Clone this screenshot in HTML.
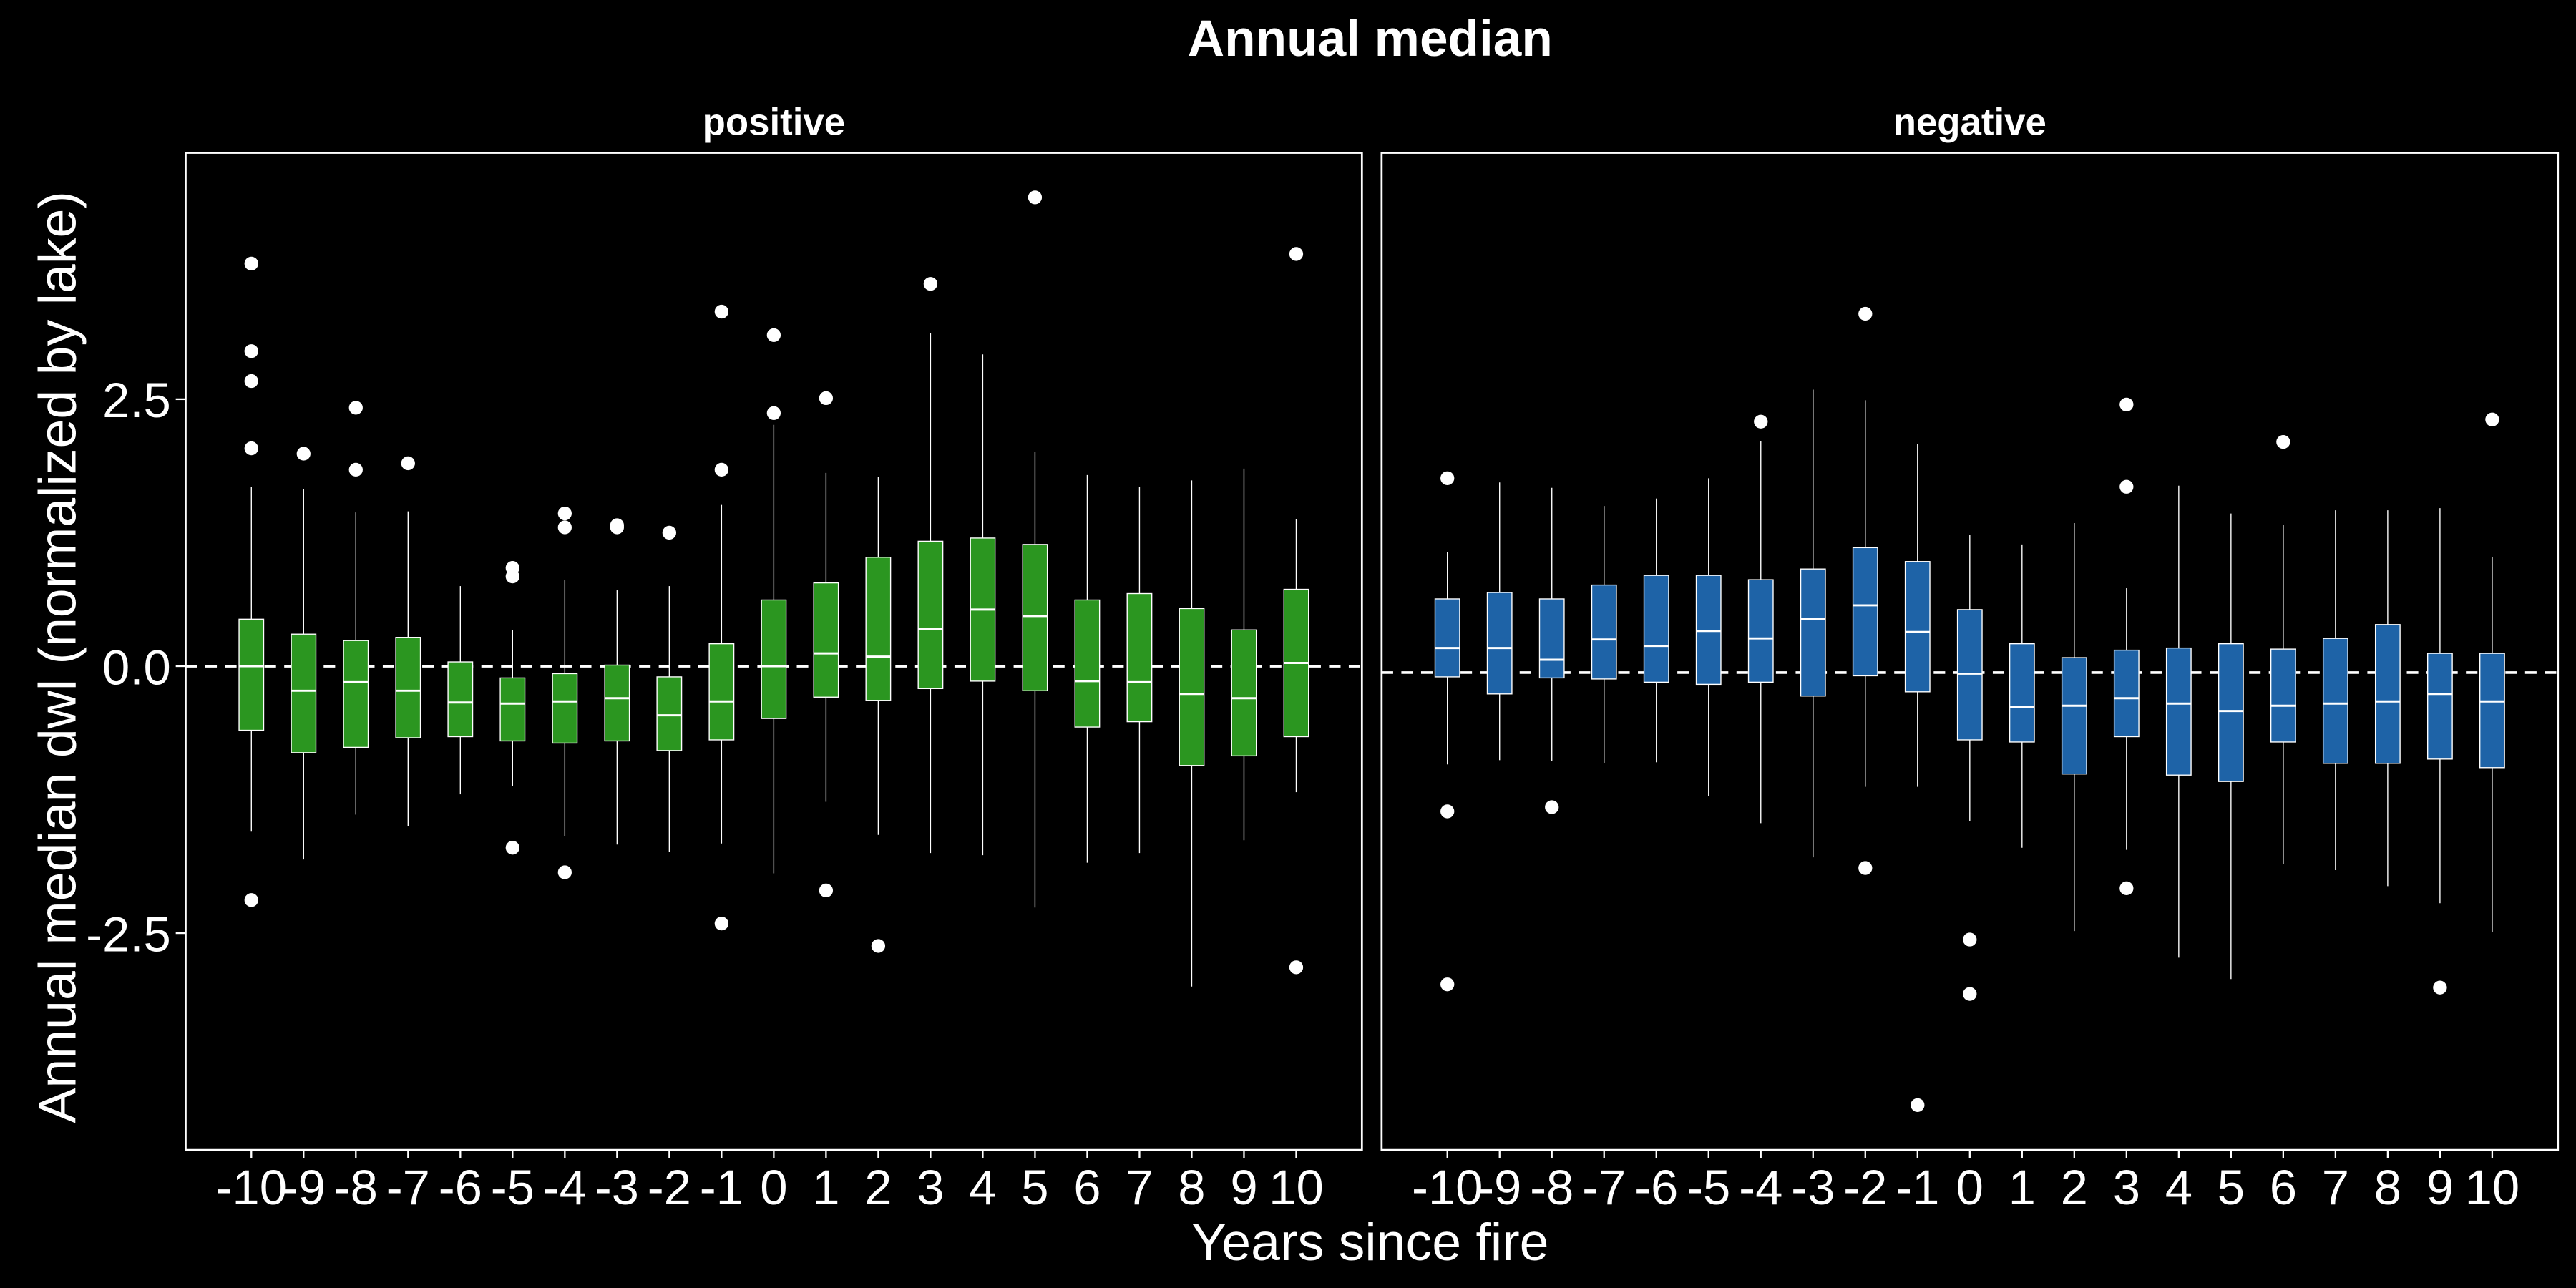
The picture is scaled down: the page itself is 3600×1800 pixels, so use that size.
<!DOCTYPE html>
<html><head><meta charset="utf-8"><style>
html,body{margin:0;padding:0;background:#000;}
svg{display:block;}
text{font-family:"Liberation Sans",Arial,sans-serif;fill:#fff;}
</style></head><body>
<svg id="chart" width="3600" height="1800" viewBox="0 0 1568 784" xmlns="http://www.w3.org/2000/svg">
<rect x="0" y="0" width="1568" height="784" fill="#000"/>
<text x="834" y="34" font-size="31" font-weight="bold" text-anchor="middle">Annual median</text>
<text x="471" y="82" font-size="23" font-weight="bold" text-anchor="middle">positive</text>
<text x="1199" y="82" font-size="23" font-weight="bold" text-anchor="middle">negative</text>
<text x="834" y="767" font-size="32" text-anchor="middle">Years since fire</text>
<text transform="translate(46,400) rotate(-90)" font-size="32" text-anchor="middle">Annual median dwl (normalized by lake)</text>
<g id="plot"></g>
</svg>
<script>
const categories = [-10,-9,-8,-7,-6,-5,-4,-3,-2,-1,0,1,2,3,4,5,6,7,8,9,10];
const yTickValues = [2.5, 0, -2.5];
const yTickLabels = ["2.5","0.0","-2.5"];
// positive panel
const posQ1 = [-0.60,-0.81,-0.76,-0.67,-0.66,-0.70,-0.72,-0.70,-0.79,-0.69,-0.49,-0.29,-0.32,-0.21,-0.14,-0.23,-0.57,-0.52,-0.93,-0.84,-0.66];
const posMed = [0.00,-0.23,-0.15,-0.23,-0.34,-0.35,-0.33,-0.30,-0.46,-0.33,0.00,0.12,0.09,0.35,0.53,0.47,-0.14,-0.15,-0.26,-0.30,0.03];
const posQ3 = [0.44,0.30,0.24,0.27,0.04,-0.11,-0.07,0.01,-0.10,0.21,0.62,0.78,1.02,1.17,1.20,1.14,0.62,0.68,0.54,0.34,0.72];
const posLo = [-1.55,-1.81,-1.39,-1.50,-1.20,-1.12,-1.59,-1.67,-1.74,-1.66,-1.94,-1.27,-1.58,-1.75,-1.77,-2.26,-1.84,-1.75,-3.00,-1.63,-1.18];
const posHi = [1.68,1.66,1.44,1.45,0.75,0.34,0.81,0.71,0.75,1.51,2.26,1.81,1.77,3.12,2.92,2.01,1.79,1.68,1.74,1.85,1.38];
const posOutliers = [[3.77,2.95,2.67,2.04,-2.19],[1.99],[2.42,1.84],[1.90],[],[0.92,0.84,-1.70],[1.43,1.30,-1.93],[1.32,1.30],[1.25],[3.32,1.84,-2.41],[3.10,2.37],[2.51,-2.10],[-2.62],[3.58],[],[4.39],[],[],[],[],[3.86,-2.82]];
const posRef = 0;
// negative panel
const negQ1 = [-0.10,-0.26,-0.11,-0.12,-0.15,-0.17,-0.15,-0.28,-0.09,-0.24,-0.69,-0.71,-1.01,-0.66,-1.02,-1.08,-0.71,-0.91,-0.91,-0.87,-0.95];
const negMed = [0.17,0.17,0.06,0.25,0.19,0.33,0.26,0.44,0.57,0.32,-0.07,-0.38,-0.37,-0.30,-0.35,-0.42,-0.37,-0.35,-0.33,-0.26,-0.33];
const negQ3 = [0.63,0.69,0.63,0.76,0.85,0.85,0.81,0.91,1.11,0.98,0.53,0.21,0.08,0.15,0.17,0.21,0.16,0.26,0.39,0.12,0.12];
const negLo = [-0.92,-0.88,-0.89,-0.91,-0.90,-1.22,-1.47,-1.79,-1.13,-1.13,-1.45,-1.70,-2.48,-1.72,-2.73,-2.93,-1.85,-1.91,-2.06,-2.22,-2.49];
const negHi = [1.07,1.72,1.67,1.50,1.57,1.76,2.11,2.59,2.49,2.08,1.23,1.14,1.34,0.73,1.69,1.43,1.32,1.46,1.46,1.48,1.02];
const negOutliers = [[1.76,-1.36,-2.98],[],[-1.32],[],[],[],[2.29],[],[3.30,-1.89],[-4.11],[-2.56,-3.07],[],[],[2.45,1.68,-2.08],[],[],[2.10],[],[],[-3.01],[2.31]];
const negRef = -0.06;

const NS = "http://www.w3.org/2000/svg";
const plot = document.getElementById('plot');
const PANEL_TOP = 93, PANEL_BOTTOM = 700, PANEL_W = 716;
function yScale(v){ return 405.5 - 65.0 * v; }
function mk(tag, attrs, parent){
  const e = document.createElementNS(NS, tag);
  for (const k in attrs) e.setAttribute(k, attrs[k]);
  (parent||plot).appendChild(e);
  return e;
}
function drawPanel(name, left, fill, q1, med, q3, lo, hi, outs, ref){
  const g = mk('g', {});
  
  
  const xScale = i => left + 40 + i * 31.8;
  const rl = mk('line', {x1:left, x2:left+PANEL_W, y1:yScale(ref), y2:yScale(ref), stroke:'#fff', 'stroke-width':1.6, 'stroke-dasharray':'7,5'}, g);
  
  
  categories.forEach((c, i) => {
    const x = xScale(i);
    const bg = mk('g', {}, g);
    
    
    mk('line', {x1:x, x2:x, y1:yScale(hi[i]), y2:yScale(q3[i]), stroke:'#fff', 'stroke-width':0.6}, bg);
    mk('line', {x1:x, x2:x, y1:yScale(q1[i]), y2:yScale(lo[i]), stroke:'#fff', 'stroke-width':0.6}, bg);
    mk('rect', {x:x-7.5, y:yScale(q3[i]), width:15, height:yScale(q1[i])-yScale(q3[i]), fill:fill, stroke:'#fff', 'stroke-width':0.6}, bg);
    mk('line', {x1:x-7.5, x2:x+7.5, y1:yScale(med[i]), y2:yScale(med[i]), stroke:'#fff', 'stroke-width':1.3}, bg);
    outs[i].forEach(v => {
      const p = mk('circle', {cx:x, cy:yScale(v), r:4.2, fill:'#fff'}, bg);
      
      
    });
    mk('line', {x1:x, x2:x, y1:PANEL_BOTTOM, y2:PANEL_BOTTOM+5, stroke:'#fff', 'stroke-width':1}, g);
    const t = mk('text', {x:x, y:733, 'font-size':30, 'text-anchor':'middle', textLength:'', }, g);
    t.removeAttribute('textLength');
    t.textContent = String(c);
    
    
  });
  const fr = mk('rect', {x:left, y:PANEL_TOP, width:PANEL_W, height:PANEL_BOTTOM-PANEL_TOP, fill:'none', stroke:'#fff', 'stroke-width':1.2}, g);
  
  
}
drawPanel('positive', 113, '#2b9620', posQ1, posMed, posQ3, posLo, posHi, posOutliers, posRef);
drawPanel('negative', 841, '#1e63a7', negQ1, negMed, negQ3, negLo, negHi, negOutliers, negRef);
yTickValues.forEach((v, i) => {
  mk('line', {x1:107, x2:113, y1:yScale(v), y2:yScale(v), stroke:'#fff', 'stroke-width':1});
  const t = mk('text', {x:104, y:yScale(v)+11, 'font-size':30, 'text-anchor':'end'});
  t.textContent = yTickLabels[i];
  
  
});
</script>
</body></html>
